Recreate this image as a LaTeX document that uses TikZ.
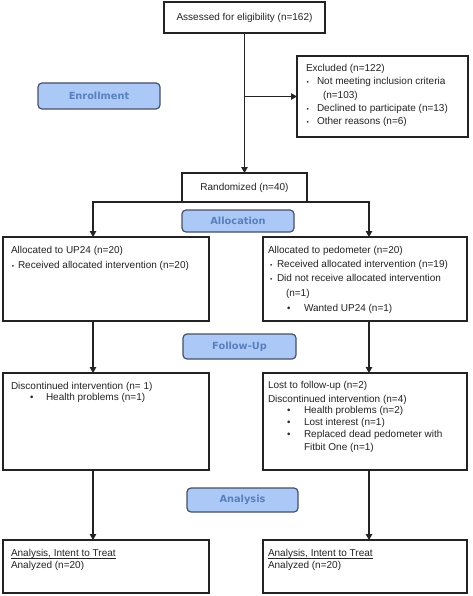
\documentclass[tikz,border=0pt]{standalone}
\usepackage{fontspec}
\setmainfont{Liberation Sans}
\newfontfamily\labfont{DejaVu Sans}
\usetikzlibrary{arrows.meta,calc}
\definecolor{ln}{RGB}{35,35,35}
\definecolor{labfill}{RGB}{172,200,246}
\definecolor{labborder}{RGB}{70,80,100}
\definecolor{labtext}{RGB}{88,128,190}
\begin{document}
\begin{tikzpicture}[x=1pt,y=-1pt,
  box/.style={draw=ln, line width=1.2pt, fill=white, anchor=north west, inner sep=0pt, outer sep=0pt},
  lab/.style={draw=labborder, fill=labfill, line width=1.2pt, rounded corners=4pt, anchor=north west, inner sep=0pt, outer sep=0pt, text=labtext, font=\labfont\bfseries\fontsize{9.8}{11}\selectfont},
  txt/.style={anchor=base west, inner sep=0pt, outer sep=0pt, text=ln, font=\fontsize{10}{12}\selectfont},
  sbul/.style={anchor=base west, inner sep=0pt, outer sep=0pt, text=ln, font=\fontsize{6.5}{8}\selectfont},
  bbul/.style={anchor=base west, inner sep=0pt, outer sep=0pt, text=ln, font=\fontsize{9.5}{10}\selectfont},
  uline/.style={draw=ln, line width=0.7pt},
  arr/.style={draw=ln, line width=1.2pt, -{Triangle[length=6pt,width=6.5pt]}}]
\useasboundingbox[fill=white] (0,0) rectangle (472,596);

% boxes
\node[box, minimum width=161pt, minimum height=31pt, font=\fontsize{10}{12}\selectfont, text=ln] (assess) at (164,2) {Assessed for eligibility (n=162)};
\node[box, minimum width=171pt, minimum height=81pt] (excl) at (297,56) {};
\node[lab, minimum width=122pt, minimum height=26pt] (enroll) at (38,83) {Enrollment};
\node[box, minimum width=125pt, minimum height=29pt, font=\fontsize{10}{12}\selectfont, text=ln] (rand) at (182,173) {Randomized (n=40)};
\node[lab, minimum width=112pt, minimum height=22pt] (alloc) at (182,210) {Allocation};
\node[box, minimum width=206pt, minimum height=84pt] (la) at (3,237) {};
\node[box, minimum width=204pt, minimum height=84pt] (ra) at (263,237) {};
\node[lab, minimum width=113pt, minimum height=25pt] (follow) at (183,334) {Follow-Up};
\node[box, minimum width=206pt, minimum height=97pt] (lf) at (3,373) {};
\node[box, minimum width=204pt, minimum height=97pt] (rf) at (263,373) {};
\node[lab, minimum width=111pt, minimum height=24pt] (anal) at (187,488) {Analysis};
\node[box, minimum width=206pt, minimum height=53pt] (lan) at (3,540) {};
\node[box, minimum width=204pt, minimum height=53pt] (ran) at (263,540) {};

% excluded text
\node[txt] (e1) at (306,71.5) {Excluded (n=122)};
\node[sbul] (e2b) at (306.5,84.8) {•};
\node[txt] (e2) at (317,84.8) {Not meeting inclusion criteria};
\node[txt] (e3) at (323,98.1) {(n=103)};
\node[sbul] (e4b) at (306.5,111.4) {•};
\node[txt] (e4) at (317,111.4) {Declined to participate (n=13)};
\node[sbul] (e5b) at (306.5,124.4) {•};
\node[txt] (e5) at (317,124.4) {Other reasons (n=6)};

% allocation texts
\node[txt] (l1) at (11,253.5) {Allocated to UP24 (n=20)};
\node[sbul] (l2b) at (12,268) {•};
\node[txt] (l2) at (18,268) {Received allocated intervention (n=20)};

\node[txt] (r1) at (268,253.5) {Allocated to pedometer (n=20)};
\node[sbul] (r2b) at (270,267.5) {•};
\node[txt] (r2) at (277,267.5) {Received allocated intervention (n=19)};
\node[sbul] (r3b) at (270,281.5) {•};
\node[txt] (r3) at (277,281.5) {Did not receive allocated intervention};
\node[txt] (r4) at (286,296.5) {(n=1)};
\node[bbul] (r5b) at (287,311.5) {•};
\node[txt] (r5) at (304,311.5) {Wanted UP24 (n=1)};

% follow-up texts
\node[txt] (f1) at (11,389.5) {Discontinued intervention (n= 1)};
\node[bbul] (f2b) at (30,400.5) {•};
\node[txt] (f2) at (46,400.5) {Health problems (n=1)};

\node[txt] (g1) at (268,388.5) {Lost to follow-up (n=2)};
\node[txt] (g2) at (268,402.5) {Discontinued intervention (n=4)};
\node[bbul] (g3b) at (287,413.5) {•};
\node[txt] (g3) at (304,413.5) {Health problems (n=2)};
\node[bbul] (g4b) at (287,425.5) {•};
\node[txt] (g4) at (304,425.5) {Lost interest (n=1)};
\node[bbul] (g5b) at (287,437.5) {•};
\node[txt] (g5) at (304,437.5) {Replaced dead pedometer with};
\node[txt] (g6) at (304,450.5) {Fitbit One (n=1)};

% analysis texts
\node[txt] (a1) at (11,556.5) {Analysis, Intent to Treat};
\node[txt] (a2) at (11,568.5) {Analyzed (n=20)};
\node[txt] (b1) at (268,556.5) {Analysis, Intent to Treat};
\node[txt] (b2) at (268,568.5) {Analyzed (n=20)};
\draw[uline] ([yshift=-1.6pt]a1.base west) -- ([yshift=-1.6pt]a1.base east);
\draw[uline] ([yshift=-1.6pt]b1.base west) -- ([yshift=-1.6pt]b1.base east);

% connectors
\coordinate (lain) at (93,237);
\coordinate (rain) at (369,237);
\coordinate (br) at (assess.south |- excl.west);
\draw[arr] (assess.south) -- (rand.north);
\draw[arr] (br) -- (excl.west);
\draw[arr] (rand.south) -| (lain);
\draw[arr] (rand.south) -| (rain);
\draw[arr] (la.south -| lain) -- (lf.north -| lain);
\draw[arr] (ra.south -| rain) -- (rf.north -| rain);
\draw[arr] (lf.south -| lain) -- (lan.north -| lain);
\draw[arr] (rf.south -| rain) -- (ran.north -| rain);
\end{tikzpicture}
\end{document}
